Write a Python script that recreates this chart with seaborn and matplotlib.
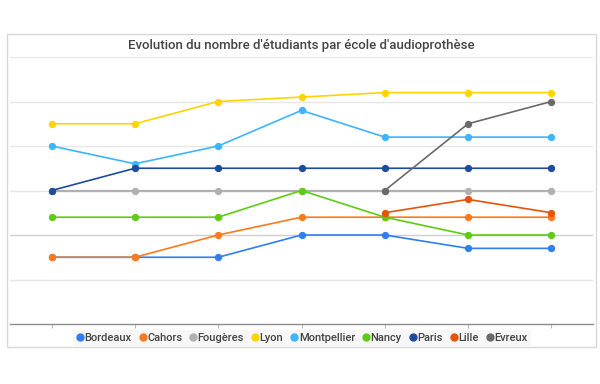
import numpy as np
import pandas as pd
import matplotlib
matplotlib.use("Agg")
import matplotlib.pyplot as plt
from matplotlib.lines import Line2D
from matplotlib.patches import Rectangle
import seaborn as sns

# Données (échelle relative, pas de graduations affichées)
periodes = [1, 2, 3, 4, 5, 6, 7]
ecoles = ["Bordeaux", "Cahors", "Fougères", "Lyon", "Montpellier",
          "Nancy", "Paris", "Lille", "Evreux"]
bordeaux = [15, 15, 15, 20, 20, 17, 17]
cahors = [15, 15, 20, 24, 24, 24, 24]
fougeres = [30, 30, 30, 30, 30, 30, 30]
lyon = [45, 45, 50, 51, 52, 52, 52]
montpellier = [40, 36, 40, 48, 42, 42, 42]
nancy = [24, 24, 24, 30, 24, 20, 20]
paris = [30, 35, 35, 35, 35, 35, 35]
lille = [np.nan, np.nan, np.nan, np.nan, 25, 28, 25]
evreux = [np.nan, np.nan, np.nan, np.nan, 30, 45, 50]

couleurs = ["#2f7ff0", "#ff7a1a", "#b0b0b0", "#ffd400", "#3db5ff",
            "#5ccc14", "#1d4c9e", "#e8530a", "#6a6a6a"]

series = [bordeaux, cahors, fougeres, lyon, montpellier, nancy, paris, lille, evreux]
rows = []
for nom, vals in zip(ecoles, series):
    for p, v in zip(periodes, vals):
        rows.append({"periode": p, "ecole": nom, "etudiants": v})
df = pd.DataFrame(rows)

sns.set_style("white")
plt.rcParams["font.family"] = ["Roboto", "DejaVu Sans"]

fig = plt.figure(figsize=(6, 3.84), dpi=100)
ax = fig.add_axes([10 / 600, 1 - 324 / 384, 583 / 600, 267 / 384])

for y in [10, 20, 30, 40, 50, 60]:
    ax.axhline(y, color="#cfcfcf" if y == 20 else "#e6e6e6", lw=1, zorder=0)

for nom, col in zip(ecoles, couleurs):
    sub = df[df["ecole"] == nom].dropna()
    sns.lineplot(data=sub, x="periode", y="etudiants", ax=ax, color=col,
                 lw=1.6 if nom == "Fougères" else 1.2, marker="o", markersize=4.5,
                 markeredgecolor=col, markerfacecolor=col, legend=False)

ax.set_xlim(0.5, 7.5)
ax.set_ylim(0, 60)
ax.set_xticks(periodes)
ax.set_xticklabels([])
ax.set_yticks([])
ax.set_xlabel("")
ax.set_ylabel("")
ax.tick_params(axis="x", length=3, color="#bbbbbb", width=0.8, bottom=True)
for s in ["top", "left", "right"]:
    ax.spines[s].set_visible(False)
ax.spines["bottom"].set_color("#8c8c8c")
ax.spines["bottom"].set_linewidth(1)
ax.patch.set_alpha(0)

fig.patches.append(Rectangle((7 / 600, 1 - 347 / 384), 589 / 600, 313 / 384,
                             transform=fig.transFigure, fill=False,
                             edgecolor="#d9d9d9", lw=1))

fig.text(301 / 600, 1 - 46 / 384,
         "Evolution du nombre d'étudiants par école d'audioprothèse",
         ha="center", va="center", fontsize=9.5, fontweight="medium", color="#444444")

handles = [Line2D([], [], ls="none", marker="o", markersize=5, color=c)
           for c in couleurs]
leg = fig.legend(handles, ecoles, loc="center", bbox_to_anchor=(302 / 600, 1 - 338 / 384),
                 ncol=9, frameon=True, fontsize=8, handlelength=0.6,
                 handletextpad=0.1, columnspacing=0.7, borderpad=0.3,
                 facecolor="#f5f5f5", edgecolor="none", labelcolor="#444444",
                 prop={"weight": "medium", "size": 8})
leg.get_frame().set_boxstyle("square", pad=0)

fig.savefig("out.png", dpi=100)
